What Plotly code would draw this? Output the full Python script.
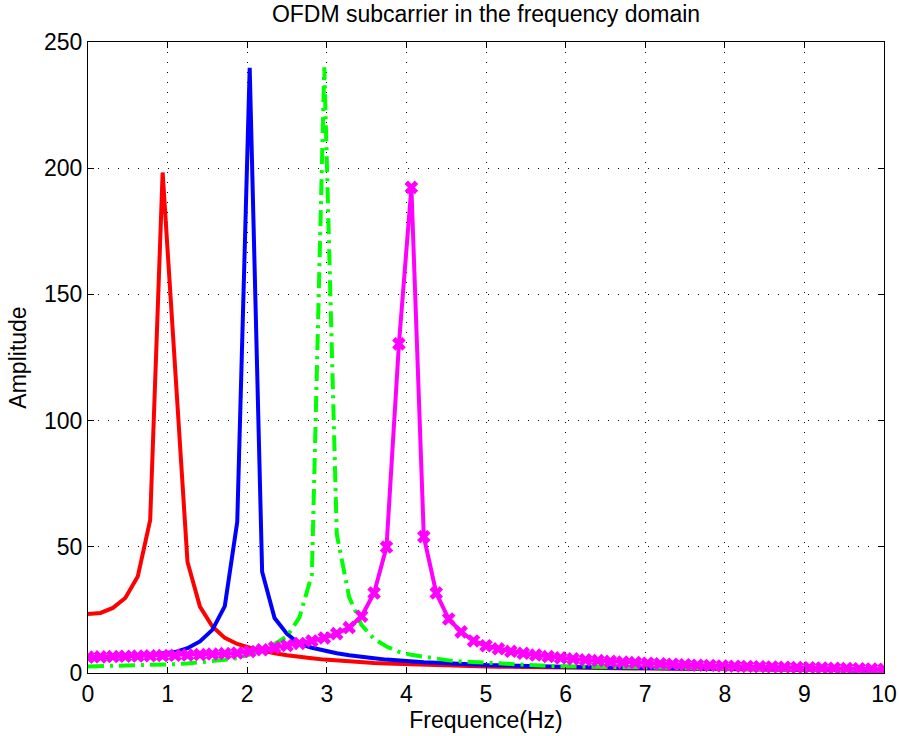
import numpy as np
import plotly.graph_objects as go

# Frequency axis (65 samples from 0 to 10 Hz)
freq = np.linspace(0, 10, 65)

red_amp = [23.4, 23.8, 25.8, 29.7, 38.2, 60.6, 198.3, 124.0, 44.0, 26.3,
           18.4, 13.9, 11.5, 10.0, 8.8, 7.8, 7.0, 6.3, 5.8, 5.3,
           4.9, 4.6, 4.3, 4.0, 3.8, 3.6, 3.4, 3.2, 3.1, 2.9,
           2.8, 2.7, 2.6, 2.5, 2.4, 2.35, 2.3, 2.2, 2.15, 2.1,
           2.0, 1.95, 1.9, 1.85, 1.8, 1.75, 1.7, 1.65, 1.6, 1.55,
           1.5, 1.45, 1.4, 1.4, 1.35, 1.3, 1.3, 1.25, 1.2, 1.2,
           1.15, 1.1, 1.1, 1.05, 1.0]

blue_amp = [6.0, 6.1, 6.3, 6.5, 6.8, 7.2, 7.7, 8.3, 9.8, 12.5,
            17.1, 26.5, 59.9, 239.8, 40.1, 21.8, 15.5, 11.5, 10.0, 8.8,
            7.8, 7.0, 6.3, 5.8, 5.3, 4.9, 4.6, 4.3, 4.1, 3.8,
            3.6, 3.4, 3.2, 3.1, 2.9, 2.8, 2.7, 2.6, 2.5, 2.4,
            2.3, 2.2, 2.15, 2.1, 2.0, 1.95, 1.9, 1.85, 1.8, 1.75,
            1.7, 1.65, 1.6, 1.55, 1.5, 1.45, 1.4, 1.35, 1.3, 1.25,
            1.2, 1.15, 1.1, 1.05, 1.0]

green_amp = [2.6, 2.7, 2.8, 2.9, 3.0, 3.1, 3.2, 3.5, 3.8, 4.2,
             4.6, 5.2, 5.9, 7.3, 9.3, 11.5, 14.5, 22.0, 39.0, 240.0,
             55.0, 30.0, 19.0, 13.5, 10.5, 8.4, 7.2, 6.4, 5.8, 5.0,
             4.6, 4.3, 4.0, 3.7, 3.4, 3.2, 3.0, 2.8, 2.7, 2.6,
             2.5, 2.4, 2.3, 2.2, 2.1, 2.0, 1.95, 1.9, 1.85, 1.8,
             1.75, 1.7, 1.65, 1.6, 1.55, 1.5, 1.45, 1.4, 1.35, 1.3,
             1.25, 1.2, 1.15, 1.1, 1.05]

magenta_amp = [6.3, 6.4, 6.5, 6.6, 6.7, 6.8, 6.9, 7.0, 7.1, 7.3,
               7.5, 7.7, 7.9, 8.5, 9.2, 10.1, 10.9, 11.7, 12.7, 13.9,
               15.6, 18.0, 22.5, 31.7, 49.9, 130.4, 192.4, 54.0, 31.7, 21.4,
               16.3, 12.7, 10.8, 9.6, 8.6, 7.8, 7.1, 6.5, 6.0, 5.6,
               5.2, 4.9, 4.6, 4.3, 4.1, 3.9, 3.7, 3.5, 3.3, 3.1,
               3.0, 2.8, 2.7, 2.6, 2.5, 2.4, 2.3, 2.2, 2.1, 2.0,
               1.9, 1.8, 1.7, 1.6, 1.5]

x_ticks = list(range(0, 11))
y_ticks = [0, 50, 100, 150, 200, 250]

FONT = "Liberation Sans, Arial, Helvetica, sans-serif"

fig = go.Figure()
fig.add_trace(go.Scatter(x=freq, y=red_amp, mode="lines",
                         line=dict(color="#ff0000", width=4), showlegend=False))
fig.add_trace(go.Scatter(x=freq, y=blue_amp, mode="lines",
                         line=dict(color="#0000ff", width=4), showlegend=False))
fig.add_trace(go.Scatter(x=freq, y=green_amp, mode="lines",
                         line=dict(color="#00ff00", width=4, dash="16px,6px,3px,6px"),
                         showlegend=False))
fig.add_trace(go.Scatter(x=freq, y=magenta_amp, mode="lines+markers",
                         line=dict(color="#ff00ff", width=4),
                         marker=dict(symbol="x", size=12, color="#ff00ff",
                                     line=dict(width=0)),
                         showlegend=False))

axis_common = dict(
    showline=True, linecolor="black", linewidth=1, mirror="ticks",
    ticks="inside", ticklen=6, tickcolor="black", tickwidth=1,
    showgrid=True, gridcolor="#000000", gridwidth=1, griddash="1px,9px",
    zeroline=False, automargin=False,
    tickfont=dict(family=FONT, size=23, color="black"),
)

fig.update_xaxes(range=[0, 10], tickvals=x_ticks, ticktext=[str(v) for v in x_ticks],
                 title=dict(text="Frequence(Hz)", font=dict(family=FONT, size=23, color="black"),
                            standoff=2),
                 **axis_common)
fig.update_yaxes(range=[0, 250], tickvals=y_ticks, ticktext=[str(v) for v in y_ticks],
                 title=dict(text="Amplitude", font=dict(family=FONT, size=23, color="black"),
                            standoff=10),
                 **axis_common)

fig.update_layout(
    width=899, height=736,
    margin=dict(l=88, r=15, t=42, b=63),
    paper_bgcolor="white", plot_bgcolor="white",
    title=dict(text="OFDM subcarrier in the frequency domain",
               font=dict(family=FONT, size=23, color="black"),
               x=0.5, xref="paper", xanchor="center",
               y=1 - 14 / 736, yref="container", yanchor="middle"),
    font=dict(family=FONT, color="black"),
)

# Remove the browser's default body margin so the figure sits at the page origin.
fig.write_html("out.html",
               config={"displayModeBar": False},
               post_script="document.body.style.margin='0px';document.body.style.padding='0px';")
